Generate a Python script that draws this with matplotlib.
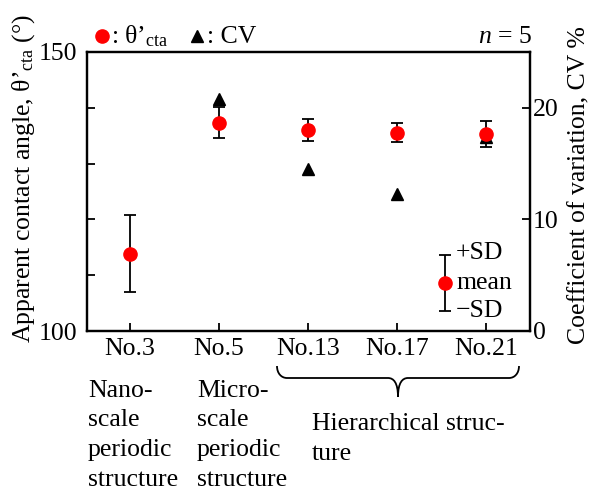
import matplotlib
matplotlib.use("Agg")
import matplotlib.pyplot as plt
from matplotlib.path import Path
from matplotlib.patches import PathPatch

plt.rcParams['font.family'] = ['Liberation Serif', 'DejaVu Serif']
plt.rcParams['mathtext.fontset'] = 'custom'
plt.rcParams['mathtext.rm'] = 'Liberation Serif'
plt.rcParams['mathtext.it'] = 'Liberation Serif:italic'

categories = ["No.3", "No.5", "No.13", "No.17", "No.21"]
mean_angle = [113.8, 137.3, 136.0, 135.5, 135.3]
sd_angle = [6.9, 2.8, 2.0, 1.7, 2.3]
cv_cats = ["No.5", "No.13", "No.17", "No.21"]
cv_values = [20.8, 14.5, 12.3, 17.4]
group_labels = ["Nano-\nscale\nperiodic\nstructure", "Micro-\nscale\nperiodic\nstructure",
                "Hierarchical struc-\nture"]

FS = 18.5
W, H = 589, 492
fig = plt.figure(figsize=(W / 100, H / 100), dpi=100)
ax = fig.add_axes([87 / W, (H - 331) / H, 443 / W, 279 / H])
ax2 = ax.twinx()


def F(px, py):
    return (px / W, 1 - py / H)


x = list(range(len(categories)))
xcv = [categories.index(c) for c in cv_cats]

ax.errorbar(x, mean_angle, yerr=sd_angle, fmt='o', color='red', ms=9.5,
            ecolor='black', elinewidth=1.3, capsize=4, capthick=1.3, zorder=3)
ax.set_zorder(ax2.get_zorder() + 1)
ax.patch.set_visible(False)
ax2.plot(xcv, cv_values, '^', color='black', ms=8, zorder=2)

ax.set_xlim(-0.48, 4.49)
ax.set_ylim(100, 150)
ax2.set_ylim(0, 25)
ax.set_yticks([100, 110, 120, 130, 140, 150])
ax.set_yticklabels(["100", "", "", "", "", "150"])
ax2.set_yticks([0, 10, 20])
ax.set_xticks(x)
ax.set_xticklabels(categories)
for a in (ax, ax2):
    a.tick_params(direction='in', length=6, width=1.3, labelsize=FS)
    for s in a.spines.values():
        s.set_linewidth(1.6)
ax.tick_params(axis='x', pad=5)
ax.tick_params(axis='y', pad=7)
ax2.tick_params(axis='y', pad=2)

fig.text(*F(24, 178), "Apparent contact angle, θ’$_{\\mathrm{cta}}$ (°)", fontsize=FS,
         rotation=90, ha='center', va='center')
fig.text(*F(579, 185), "Coefficient of variation, CV %", fontsize=FS,
         rotation=90, ha='center', va='center')

# inner legend for error bar
ax.errorbar([3.54], [108.65], yerr=[5.0], fmt='o', color='red', ms=9.5,
            ecolor='black', elinewidth=1.3, capsize=4, capthick=1.3, zorder=3)
ax.text(3.66, 113.9, "+SD", fontsize=FS, va='center', ha='left')
ax.text(3.66, 108.65, "mean", fontsize=FS, va='center', ha='left')
ax.text(3.66, 103.6, "\u2212SD", fontsize=FS, va='center', ha='left')

# top legend
fig.lines.append(plt.Line2D([101.5 / W], [1 - 36 / H], marker='o', color='red', ms=9.5,
                            transform=fig.transFigure))
fig.text(*F(111, 43), ": θ’$_{\\mathrm{cta}}$", fontsize=FS, va='baseline')
fig.lines.append(plt.Line2D([197 / W], [1 - 36 / H], marker='^', color='black', ms=8,
                            transform=fig.transFigure))
fig.text(*F(207, 43), ": CV", fontsize=FS, va='baseline')
fig.text(*F(532, 43), "$n$ = 5", fontsize=FS, va='baseline', ha='right')

# group labels, drawn line by line
starts = [(88, 397), (197, 397), (312, 430)]
spacing = [29.5, 29.5, 30]
for (gx, gy), sp, lab in zip(starts, spacing, group_labels):
    for i, line in enumerate(lab.split("\n")):
        fig.text(*F(gx, gy + sp * i), line, fontsize=FS, va='baseline', ha='left')

# brace
x0, x1, xm = 277, 519, 398
yt, yb, ytip = 366, 378, 397
r = 10
verts = [F(x0, yt), F(x0, yb - r * 0.45), F(x0 + r * 0.45, yb), F(x0 + r, yb),
         F(xm - r, yb), F(xm - r * 0.45, yb), F(xm, yb + r * 0.45), F(xm, ytip),
         F(xm, yb + r * 0.45), F(xm + r * 0.45, yb), F(xm + r, yb),
         F(x1 - r, yb), F(x1 - r * 0.45, yb), F(x1, yb - r * 0.45), F(x1, yt)]
codes = [Path.MOVETO, Path.CURVE4, Path.CURVE4, Path.CURVE4,
         Path.LINETO, Path.CURVE4, Path.CURVE4, Path.CURVE4,
         Path.CURVE4, Path.CURVE4, Path.CURVE4,
         Path.LINETO, Path.CURVE4, Path.CURVE4, Path.CURVE4]
fig.patches.append(PathPatch(Path(verts, codes), transform=fig.transFigure,
                             fill=False, lw=1.3, edgecolor='black'))

fig.savefig("out.png", dpi=100)
